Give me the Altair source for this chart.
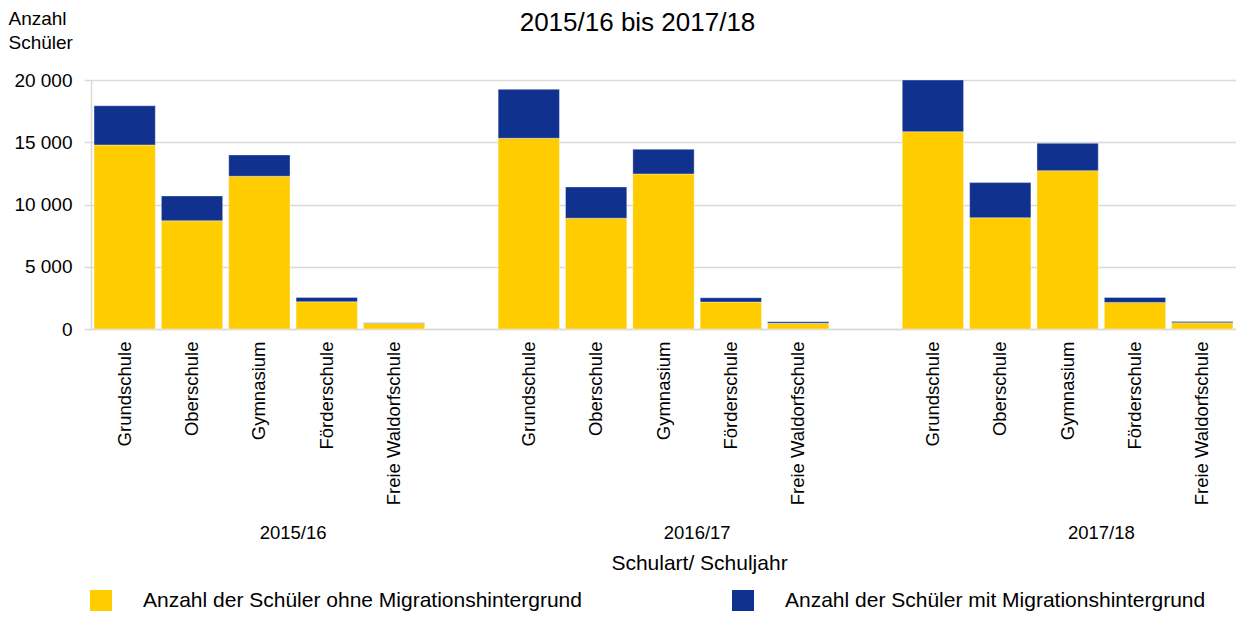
import altair as alt
import pandas as pd

years = ["2015/16", "2016/17", "2017/18"]
schools = ["Grundschule", "Oberschule", "Gymnasium", "Förderschule", "Freie Waldorfschule"]
series = ["Anzahl der Schüler ohne Migrationshintergrund",
          "Anzahl der Schüler mit Migrationshintergrund"]
colors = ["#FFCC00", "#10328E"]

ohne_2015 = [14780, 8690, 12270, 2190, 460]
mit_2015 = [3150, 2000, 1710, 345, 50]
ohne_2016 = [15320, 8900, 12455, 2165, 460]
mit_2016 = [3930, 2510, 1980, 345, 120]
ohne_2017 = [15850, 8930, 12720, 2135, 505]
mit_2017 = [4150, 2830, 2200, 400, 100]

ohne = [ohne_2015, ohne_2016, ohne_2017]
mit = [mit_2015, mit_2016, mit_2017]

rows = []
for yi, y in enumerate(years):
    for si, s in enumerate(schools):
        rows.append({"slot": f"{y}|{s}", "serie": series[0], "ord": 0, "wert": ohne[yi][si]})
        rows.append({"slot": f"{y}|{s}", "serie": series[1], "ord": 1, "wert": mit[yi][si]})
df = pd.DataFrame(rows)

domain = []
for yi, y in enumerate(years):
    domain += [f"{y}|{s}" for s in schools]
    if yi < len(years) - 1:
        domain.append(f"gap{yi}")

df_years = pd.DataFrame({"slot": [f"{y}|Förderschule" for y in years], "jahr": years})

FONT = "Liberation Sans"
W, H = 1145, 249

x_enc = alt.X(
    "slot:N",
    scale=alt.Scale(domain=domain, paddingInner=0.09, paddingOuter=0.045),
    axis=alt.Axis(
        title="Schulart/ Schuljahr",
        titleFontSize=21, titleFontWeight="normal", titleColor="#000",
        titleX=608, titleY=234, titleBaseline="middle", titleAnchor="start", titleAlign="center",
        labelAngle=-90, labelAlign="right", labelBaseline="middle",
        labelFontSize=18.5, labelColor="#000", labelPadding=12,
        labelExpr="indexof(datum.label, '|') >= 0 ? split(datum.label, '|')[1] : ''",
        ticks=False, domainColor="#d9d9d9", domainWidth=1.5, labelOverlap=False,
    ),
)

bars = alt.Chart(df).mark_bar(stroke="#ffffff", strokeWidth=0.6, strokeOpacity=0.6).encode(
    x=x_enc,
    y=alt.Y(
        "wert:Q",
        stack="zero",
        scale=alt.Scale(domain=[0, 20000], nice=False),
        axis=alt.Axis(
            values=[0, 5000, 10000, 15000, 20000],
            labelExpr="replace(format(datum.value, ','), ',', ' ')",
            labelFontSize=19, labelColor="#000", labelPadding=12,
            tickSize=7, tickColor="#d9d9d9", tickWidth=1.5,
            domainColor="#d9d9d9", domainWidth=1.5,
            gridColor="#d9d9d9", gridWidth=1.5,
            title=["Anzahl", "Schüler"], titleAngle=0, titleX=-83, titleY=-71,
            titleAlign="left", titleBaseline="top", titleFontSize=19,
            titleFontWeight="normal", titleColor="#000", titleLineHeight=24,
        ),
    ),
    color=alt.Color(
        "serie:N",
        scale=alt.Scale(domain=series, range=colors),
        legend=alt.Legend(
            title=None, orient="none", legendX=-1, legendY=510,
            direction="horizontal", columns=2, columnPadding=150,
            symbolType="square", symbolSize=484, symbolStrokeWidth=0,
            symbolOpacity=1, labelFontSize=21, labelColor="#000",
            labelOffset=31, labelLimit=0, padding=0,
        ),
    ),
    order=alt.Order("ord:Q", sort="ascending"),
)

year_text = alt.Chart(df_years).mark_text(
    fontSize=18.5, font=FONT, color="#000", baseline="middle", align="center", dx=-3
).encode(
    x=alt.X("slot:N", bandPosition=0),
    y=alt.value(H + 204),
    text="jahr:N",
)

chart = alt.layer(bars, year_text).properties(
    width=W, height=H,
    title=alt.TitleParams("2015/16 bis 2017/18", fontSize=26, font=FONT,
                          fontWeight="normal", color="#000", anchor="middle",
                          dx=-26, offset=-27),
    autosize=alt.AutoSizeParams(type="none"),
    padding={"left": 83, "top": 72, "right": 0, "bottom": 282},
).configure(font=FONT).configure_view(stroke=None)

chart.save("out.html", embed_options={"renderer": "svg", "actions": False})
